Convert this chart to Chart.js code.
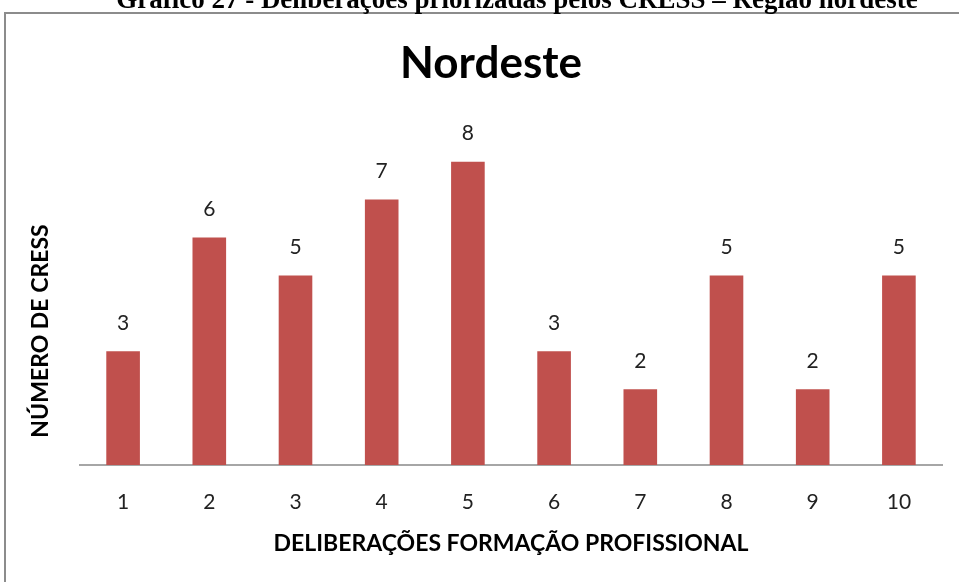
<!DOCTYPE html>
<html>
<head>
<meta charset="utf-8">
<script src="https://cdn.jsdelivr.net/npm/chart.js@4/dist/chart.umd.min.js"></script>
<style>
  html, body { margin: 0; padding: 0; background: #fff; }
  #wrap { position: relative; width: 959px; height: 582px; overflow: hidden; }
  canvas { position: absolute; left: 0; top: 0; }
</style>
</head>
<body>
<div id="wrap"><canvas id="c" width="959" height="582"></canvas></div>
<script>
const caption = 'Gráfico 27 - Deliberações priorizadas pelos CRESS – Região nordeste';
const chartTitle = 'Nordeste';
const categories = ['1', '2', '3', '4', '5', '6', '7', '8', '9', '10'];
const cressCount = [3, 6, 5, 7, 8, 3, 2, 5, 2, 5];
const xTitle = 'DELIBERAÇÕES FORMAÇÃO PROFISSIONAL';
const yTitle = 'NÚMERO DE CRESS';

const SANS = 'Lato, "Open Sans", sans-serif';

// Frame around the chart plus the document caption above it
const framePlugin = {
  id: 'frame',
  beforeDraw(chart) {
    const ctx = chart.ctx;
    ctx.save();
    ctx.fillStyle = '#fff';
    ctx.fillRect(0, 0, chart.width, chart.height);
    ctx.strokeStyle = '#8c8c8c';
    ctx.lineWidth = 2;
    ctx.strokeRect(5, 13, 1000, 700);
    ctx.fillStyle = '#000';
    ctx.font = 'bold 27px "Liberation Serif", serif';
    ctx.textAlign = 'center';
    ctx.textBaseline = 'alphabetic';
    ctx.fillText(caption, 517, 8);
    ctx.restore();
  }
};

// Vertical axis caption, placed beside the bars
const yTitlePlugin = {
  id: 'yTitle',
  afterDraw(chart) {
    const ctx = chart.ctx;
    ctx.save();
    ctx.translate(41, 331);
    ctx.rotate(-Math.PI / 2);
    ctx.fillStyle = '#000';
    ctx.font = 'bold 23px ' + SANS;
    ctx.textAlign = 'center';
    ctx.textBaseline = 'middle';
    ctx.fillText(yTitle, 0, 0);
    ctx.restore();
  }
};

// Value labels above each bar
const valueLabels = {
  id: 'valueLabels',
  afterDatasetsDraw(chart) {
    const ctx = chart.ctx;
    const meta = chart.getDatasetMeta(0);
    ctx.save();
    ctx.fillStyle = '#222';
    ctx.font = '21px ' + SANS;
    ctx.textAlign = 'center';
    ctx.textBaseline = 'middle';
    meta.data.forEach((bar, i) => {
      ctx.fillText(String(cressCount[i]), bar.x, bar.y - 28);
    });
    ctx.restore();
  }
};

new Chart(document.getElementById('c'), {
  type: 'bar',
  data: {
    labels: categories,
    datasets: [{
      data: cressCount,
      backgroundColor: '#C0504D',
      borderWidth: 0,
      categoryPercentage: 1,
      barPercentage: 0.39
    }]
  },
  options: {
    responsive: false,
    animation: false,
    layout: { padding: { top: 0, right: 17, bottom: 0, left: 40 } },
    plugins: {
      legend: { display: false },
      tooltip: { enabled: false },
      title: {
        display: true,
        text: chartTitle,
        color: '#000',
        font: { family: SANS, size: 44, weight: 'bold' },
        padding: { top: 37, bottom: 34 }
      }
    },
    scales: {
      x: {
        grid: { display: false },
        border: { display: true, color: '#A6A6A6', width: 2 },
        ticks: { color: '#222', font: { family: SANS, size: 21 }, padding: 17 },
        title: {
          display: true,
          text: xTitle,
          color: '#000',
          font: { family: SANS, size: 23, weight: 'bold' },
          padding: { top: 10, bottom: 25 }
        },
        afterFit(scale) { scale.height = 117; }
      },
      y: {
        min: 0,
        max: 9,
        grid: { display: false },
        border: { display: false },
        ticks: { display: false },
        title: { display: false },
        afterFit(scale) { scale.width = 40; }
      }
    }
  },
  plugins: [framePlugin, yTitlePlugin, valueLabels]
});
</script>
</body>
</html>
